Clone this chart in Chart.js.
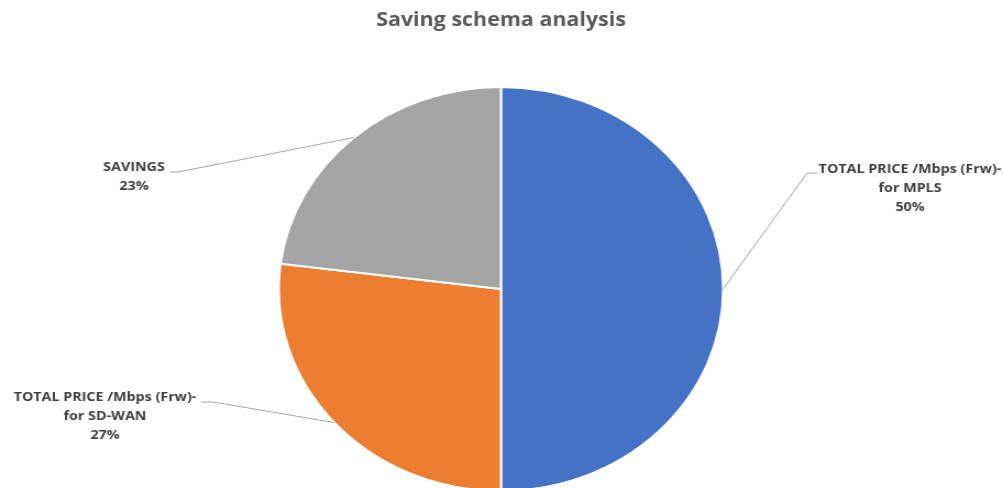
<!DOCTYPE html>
<html>
<head>
<meta charset="utf-8">
<script src="https://cdn.jsdelivr.net/npm/chart.js@4.4.1/dist/chart.umd.min.js"></script>
<style>
  html, body { margin: 0; padding: 0; background: #fff; overflow: hidden; }
  #wrap { width: 912px; height: 488px; transform: scaleX(1.0998); transform-origin: 0 0; }
  canvas { display: block; }
</style>
</head>
<body>
<div id="wrap"><canvas id="pie" width="912" height="488"></canvas></div>
<script>
const title = 'Saving schema analysis';
const categories = [
  ['TOTAL PRICE /Mbps (Frw)-', 'for MPLS'],
  ['TOTAL PRICE /Mbps (Frw)-', 'for SD-WAN'],
  ['SAVINGS']
];
const shares = [50, 27, 23];
const colors = ['#4472C4', '#ED7D31', '#A5A5A5'];

// the whole canvas is stretched sideways a little; layout below is in page px
const SX = 1003 / 912;

// label block centre, first line y, and the leader elbow (page px)
const labelLayout = [
  { cx: 910, y: 169, elbow: [807, 173], stub: [817, 173] },
  { cx: 105, y: 397, elbow: [213, 402], stub: [201, 402] },
  { cx: 134, y: 167, elbow: [178, 172], stub: [170, 172] }
];

const labelPlugin = {
  id: 'pieLabels',
  afterDraw(chart) {
    const ctx = chart.ctx;
    const arcs = chart.getDatasetMeta(0).data;
    ctx.save();
    ctx.textAlign = 'center';
    ctx.textBaseline = 'middle';

    ctx.fillStyle = '#595959';
    ctx.font = 'bold 19.5px "Open Sans", Lato, sans-serif';
    ctx.fillText(title, 501 / SX, 20);

    arcs.forEach((arc, i) => {
      const p = arc.getProps(['x', 'y', 'startAngle', 'endAngle', 'outerRadius'], true);
      const mid = (p.startAngle + p.endAngle) / 2;
      const ax = p.x + Math.cos(mid) * p.outerRadius;
      const ay = p.y + Math.sin(mid) * p.outerRadius;
      const l = labelLayout[i];

      ctx.strokeStyle = '#A6A6A6';
      ctx.lineWidth = 1;
      ctx.beginPath();
      ctx.moveTo(ax, ay);
      ctx.lineTo(l.elbow[0] / SX, l.elbow[1]);
      ctx.lineTo(l.stub[0] / SX, l.stub[1]);
      ctx.stroke();

      ctx.fillStyle = '#404040';
      ctx.font = 'bold 13px "Open Sans", Lato, sans-serif';
      const lines = categories[i].concat([chart.data.datasets[0].data[i] + '%']);
      lines.forEach((t, k) => ctx.fillText(t, l.cx / SX, l.y + k * 19));
    });
    ctx.restore();
  }
};

new Chart(document.getElementById('pie'), {
  type: 'pie',
  data: {
    labels: categories.map(c => c.join(' ')),
    datasets: [{
      data: shares,
      backgroundColor: colors,
      borderColor: '#ffffff',
      borderWidth: 2
    }]
  },
  options: {
    responsive: false,
    animation: false,
    radius: 202,
    layout: { padding: { top: 90, bottom: 0, left: 205, right: 206 } },
    plugins: {
      legend: { display: false },
      tooltip: { enabled: false },
      title: { display: false }
    }
  },
  plugins: [labelPlugin]
});
</script>
</body>
</html>
